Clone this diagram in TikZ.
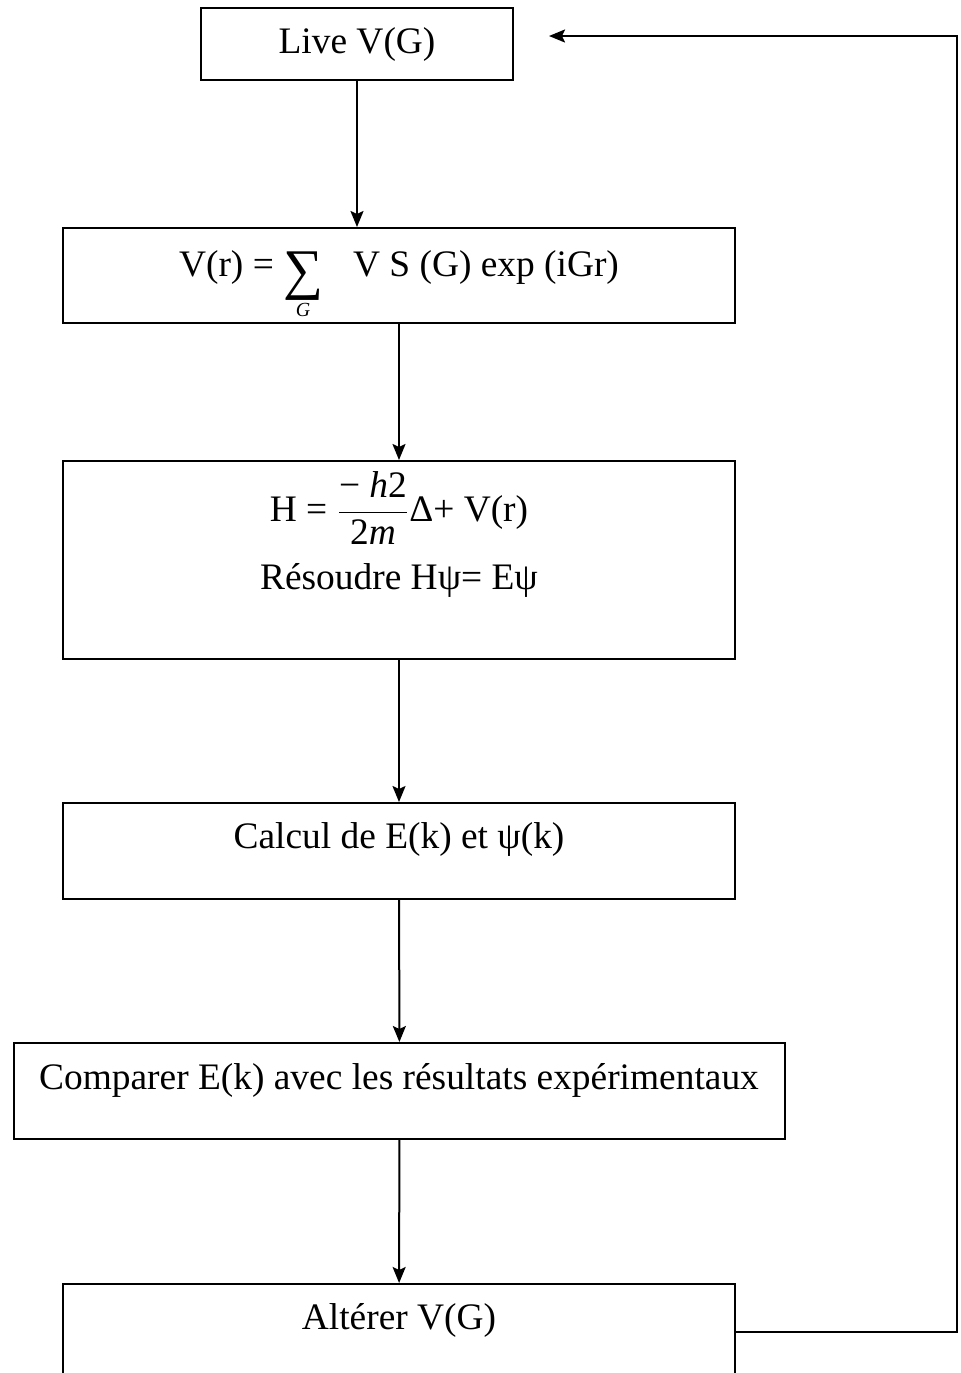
\documentclass[tikz,border=0pt]{standalone}
\usepackage{fontspec}
\setmainfont{Liberation Serif}
\usetikzlibrary{arrows.meta,positioning}

\begin{document}
\begin{tikzpicture}[
    x=0.5pt, y=-0.5pt,
    box/.style={draw, line width=1pt, minimum width=336pt, minimum height=48pt, inner sep=0pt},
    txt/.style={font=\fontsize{18.7}{22}\selectfont, inner sep=0pt},
    arr/.style={-{Stealth[length=8pt,width=6.5pt,inset=1.5pt]}, line width=1pt},
]
\useasboundingbox (0,0) rectangle (961,1373);
\clip (0,0) rectangle (961,1373);

\node[box, txt, minimum width=156pt, minimum height=36pt] (live) at (357,44) {Live V(G)};
\node[box, minimum height=47.5pt] (sum) at (399,275.5) {};
\node[box, minimum height=99pt] (ham) at (399,560) {};
\node[box] (calc) at (399,851) {};
\node[box, minimum width=385.5pt] (comp) at (399.5,1091) {};
\node[box] (alter) at (399,1332) {};

% texts
\node[txt, anchor=base] (sumtxt) at (399,276) {V(r) = \(\displaystyle\mathop{\hbox{\raisebox{-6pt}{\fontsize{28}{28}\selectfont ∑}}}\limits_{\hbox{\fontsize{10}{10}\selectfont\itshape G}}\)\hspace{0.8em}V S (G) exp (iGr)};
\node[txt, anchor=base] (hamtxt) at (399,521) {H = \(\displaystyle\frac{\hbox{− \textit{h}2}}{\hbox{2\textit{m}}}\)Δ+ V(r)};
\node[txt, anchor=base] (solve) at (399,589) {Résoudre Hψ= Eψ};
\node[txt, anchor=base] (calctxt) at (399,848) {Calcul de E(k) et ψ(k)};
\node[txt, anchor=base] (comptxt) at (399,1089) {Comparer E(k) avec les résultats expérimentaux};
\node[txt, anchor=base] (altertxt) at (399,1329) {Altérer V(G)};

\coordinate (ret) at (957,36);
\coordinate (back) at (549,36);

\draw[arr] (live.south) -- (live.south |- sum.north);
\draw[arr] (sum) -- (ham);
\draw[arr] (ham) -- (calc);
\draw[arr] (calc) -- (comp);
\draw[arr] (comp) -- (alter);

% back to the start
\draw[arr] (alter.east) -| (ret) -- (back);

\end{tikzpicture}
\end{document}
